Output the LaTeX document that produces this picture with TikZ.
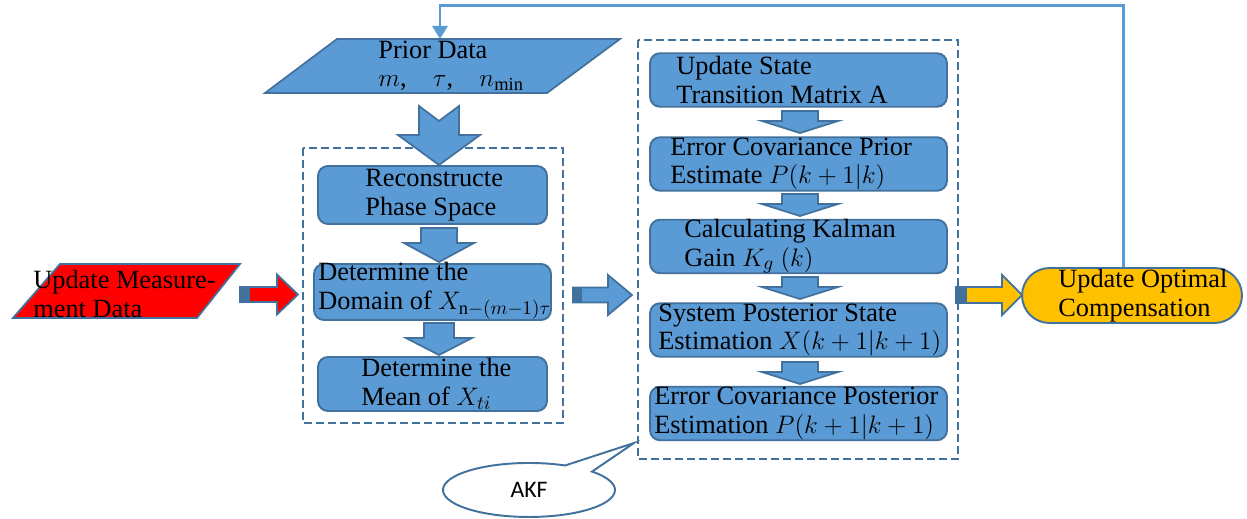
\documentclass[tikz,border=0pt]{standalone}
\usepackage{fontspec}
\setmainfont{Liberation Serif}
\newfontfamily\akffont{Carlito}
\usepackage{tikz}
\usetikzlibrary{%
	arrows.meta,%
	calc%
}
\definecolor{FillBlue}{HTML}{5B9BD5}
\definecolor{LineBlue}{HTML}{41719C}
\definecolor{Alarm}{HTML}{FF0000}
\definecolor{Gold}{HTML}{FFC000}

\begin{document}
\begin{tikzpicture}[x=0.02cm,y=-0.02cm,
	box/.style={draw=LineBlue,fill=FillBlue,line width=1.1pt,rounded corners=0.2cm,inner sep=0pt},
	txt/.style={anchor=west,align=left,inner sep=0pt,font=\fontsize{15}{16.2}\selectfont},
	blk/.style={draw=LineBlue,fill=FillBlue,line width=1pt},
	group/.style={draw=LineBlue,dash pattern=on 0.16cm off 0.08cm,line width=1.1pt},
	fb/.style={draw=FillBlue,line width=1.7pt,-{Triangle[length=0.26cm,width=0.3cm]}}]
\useasboundingbox (0,0) rectangle (1247,519);

\draw [group] (303,148) rectangle (563,423);
\draw [group] (638,40) rectangle (958,459);

\draw [blk,fill=Alarm] (13,318) -- (60,264) -- (240,264) -- (197,318) -- cycle;
\draw [blk] (265,93) -- (337,39) -- (620,39) -- (547,93) -- cycle;
\coordinate (priortop) at (440,39);

\node [box,minimum width=4.58cm,minimum height=1.16cm] (recon) at (432.5,195) {};
\node [box,minimum width=4.74cm,minimum height=1.12cm] (domain) at (432.5,292) {};
\node [box,minimum width=4.58cm,minimum height=1.08cm] (mean) at (432.5,384) {};
\foreach \name/\y in {upd/80,eprior/164,kalman/246.5,spost/330,epost/413.5}
	\node [box,minimum width=5.94cm,minimum height=1.07cm] (\name) at (798.5,\y) {};
\node [box,fill=Gold,rounded corners=0.55cm,minimum width=4.4cm,minimum height=1.1cm] (opt) at (1132,295.5) {};

% block arrows
\draw [blk] (419,106) -- (439,121) -- (459,106) -- (459,135) -- (480,135) -- (439,165) -- (398,135) -- (419,135) -- cycle;
\draw [blk] (421,228) -- (421,243) -- (404,243) -- (439,262) -- (474,243) -- (457,243) -- (457,228) -- cycle;
\draw [blk] (424,323) -- (424,338) -- (406,338) -- (439,355) -- (472,338) -- (454,338) -- (454,323) -- cycle;
\foreach \y in {111,194,277,362}
	\draw [blk] (782,\y) -- ++(0,10) -- ++(-20,0) -- ++(38,12) -- ++(38,-12) -- ++(-20,0) -- ++(0,-10) -- cycle;

\draw [blk,fill=Alarm] (240,287) -- (277,287) -- (277,274.5) -- (298,294.5) -- (277,314.5) -- (277,302) -- (240,302) -- cycle;
\fill [LineBlue] (240,287) rectangle (250,302);
\draw [blk] (573,287.5) -- (608,287.5) -- (608,275) -- (632,295) -- (608,315) -- (608,302.5) -- (573,302.5) -- cycle;
\fill [LineBlue] (573,287.5) rectangle (582,302.5);
\draw [blk,fill=Gold] (956,287) -- (1002,287) -- (1002,275) -- (1022,295) -- (1002,315) -- (1002,303) -- (956,303) -- cycle;
\fill [LineBlue] (956,287) rectangle (967,303);

% feedback
\coordinate (fbtop) at (1123,6);
\draw [fb] (opt.north -| fbtop) -- (fbtop) -| (priortop);

% callout
\draw [LineBlue,fill=white,line width=1.1pt] (565,465.5) -- (634,443) -- (592,471.6) arc [start angle=317.1,end angle=654.8,x radius=86,y radius=27] -- cycle;
\node [font=\akffont\fontsize{13.5}{15}\selectfont] (akf) at (529,490) {AKF};

\node [txt] (prior-txt) at (378,66) {Prior Data\\ $m$,\quad$\tau$,\quad$n_{\min}$};
\node [txt] (measure-txt) at (33,294) {Update Measure-\\ment Data};
\node [txt] (recon-txt) at (365,195) {Reconstructe\\Phase Space};
\node [txt] (domain-txt) at (318,291) {Determine the\\Domain of $X_{\mathrm{n}-(m-1)\tau}$};
\node [txt] (mean-txt) at (361,384) {Determine the\\Mean of $X_{ti}$};
\node [txt] (upd-txt) at (676,80) {Update State\\Transition Matrix A};
\node [txt] (eprior-txt) at (670,164) {Error Covariance Prior\\Estimate $P(k+1|k)$};
\node [txt] (kalman-txt) at (684,246.5) {Calculating Kalman\\Gain $K_g$ $(k)$};
\node [txt] (spost-txt) at (658,330) {System Posterior State\\Estimation $X(k+1|k+1)$};
\node [txt] (epost-txt) at (654,413.5) {Error Covariance Posterior\\Estimation $P(k+1|k+1)$};
\node [txt] (opt-txt) at (1058,295.5) {Update Optimal\\Compensation};
\end{tikzpicture}
\end{document}
